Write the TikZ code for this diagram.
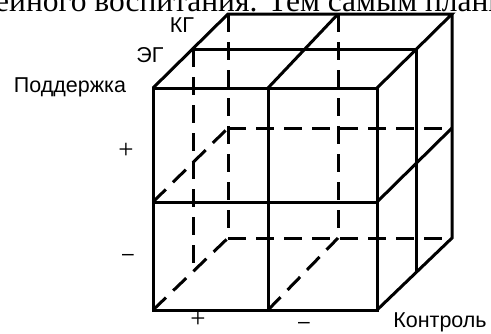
\documentclass[tikz,border=0pt]{standalone}
\usepackage{fontspec}
\setmainfont{Liberation Serif}
\setsansfont{Liberation Sans}
\begin{document}
\begin{tikzpicture}[x=1pt,y=-1pt,
  edge/.style={line width=3pt,line cap=butt,line join=miter},
  hidden/.style={line width=3pt,dash pattern=on 18pt off 10pt},
  lbl/.style={font=\sffamily\fontsize{21.5}{21.5}\selectfont,inner sep=0pt},
  plus/.style={font=\fontsize{27}{27}\selectfont,inner sep=0pt},
  minus/.style={font=\sffamily\fontsize{21}{21}\selectfont,inner sep=0pt}]
\useasboundingbox (0,0) rectangle (491,333);
\begin{scope}
\clip (0,0) rectangle (491,333);
\node[anchor=base west,inner sep=0pt,font=\fontsize{31.5}{31.5}\selectfont] (head) at (-5,11.5) {ейного воспитания. Тем самым плани};
\end{scope}
% hidden edges
\draw[hidden] (228,14) -- (228,238);
\draw[hidden] (338,14) -- (338,238);
\draw[hidden] (193,49) -- (193,272);
\draw[hidden] (228,128) -- (452,128);
\draw[hidden] (228,238) -- (452,238);
\draw[hidden] (153,202) -- (228,128);
\draw[hidden] (153,310) -- (228,238);
\draw[hidden] (268,310) -- (338,238);
% visible edges
\draw[edge] (153,88) rectangle (377,310);
\draw[edge] (268,88) -- (268,310);
\draw[edge] (153,202) -- (377,202);
\draw[edge] (153,88) -- (228,14) -- (452,14) -- (377,88);
\draw[edge] (268,88) -- (338,14);
\draw[edge] (193,49) -- (416,49);
\draw[edge] (452,14) -- (452,238) -- (377,310);
\draw[edge] (377,202) -- (452,128);
\draw[edge] (416,49) -- (416,272);
% labels
\node[lbl] (kg) at (182,25) {КГ};
\node[lbl] (eg) at (150,55) {ЭГ};
\node[lbl] (sup) at (70,87) {Поддержка};
\node[plus] (splus) at (126,151) {+};
\node[minus] (sminus) at (128,257) {–};
\node[plus] (cplus) at (198,320) {+};
\node[minus] (cminus) at (304,325) {–};
\node[lbl] (ctrl) at (440,322) {Контроль};
\end{tikzpicture}
\end{document}
